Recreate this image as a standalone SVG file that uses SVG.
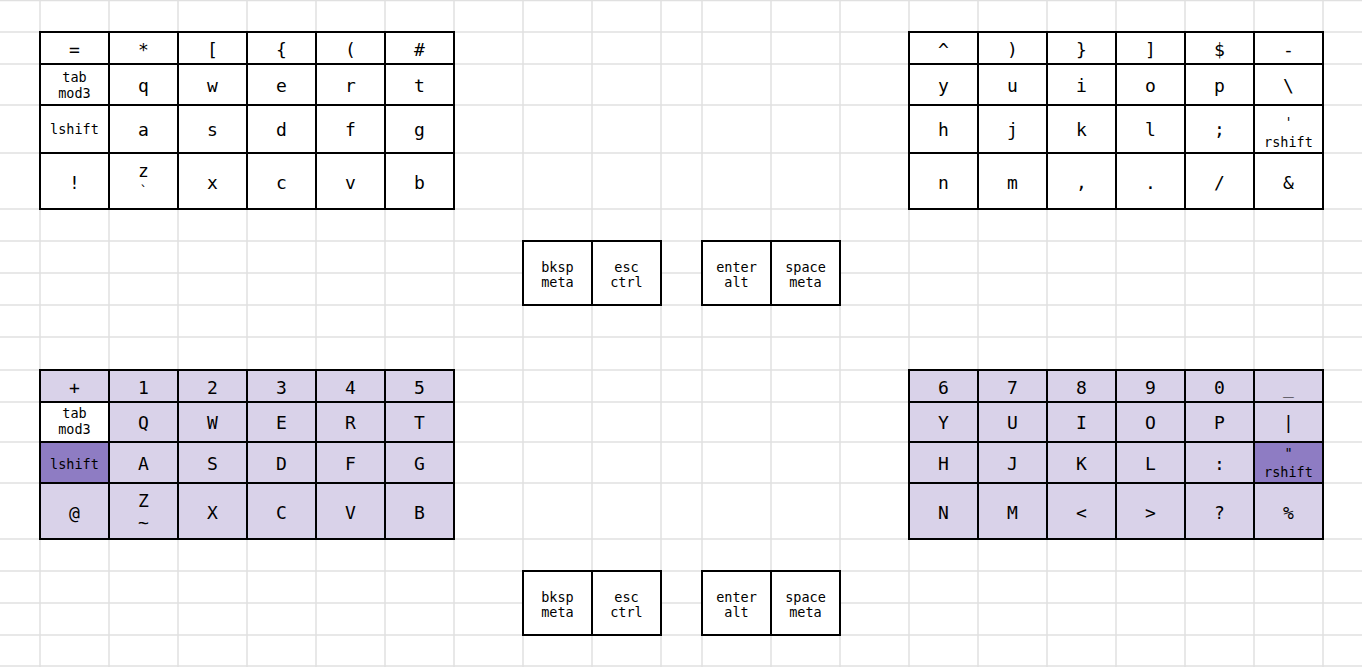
<svg xmlns="http://www.w3.org/2000/svg" width="1362" height="667" viewBox="0 0 1362 667">
<style>
.grid line{stroke:#e0e0e0;stroke-width:1.5}
rect.k{fill:#fff;stroke:#000;stroke-width:2}
rect.l{fill:#d9d2e9;stroke:#000;stroke-width:2}
rect.d{fill:#8e7cc3;stroke:#000;stroke-width:2}
text{font-family:"DejaVu Sans Mono","Liberation Mono",monospace;fill:#000;text-anchor:middle}
.b{font-size:18px}
.s{font-size:13.5px}
</style>
<rect width="1362" height="667" fill="#fff"/>
<g class="grid" id="grid">
<line x1="0" y1="0.5" x2="1362" y2="0.5"/>
<line x1="0" y1="32" x2="1362" y2="32"/>
<line x1="0" y1="64" x2="1362" y2="64"/>
<line x1="0" y1="105" x2="1362" y2="105"/>
<line x1="0" y1="153" x2="1362" y2="153"/>
<line x1="0" y1="209" x2="1362" y2="209"/>
<line x1="0" y1="241" x2="1362" y2="241"/>
<line x1="0" y1="273" x2="1362" y2="273"/>
<line x1="0" y1="305" x2="1362" y2="305"/>
<line x1="0" y1="337" x2="1362" y2="337"/>
<line x1="0" y1="370" x2="1362" y2="370"/>
<line x1="0" y1="402" x2="1362" y2="402"/>
<line x1="0" y1="442" x2="1362" y2="442"/>
<line x1="0" y1="483" x2="1362" y2="483"/>
<line x1="0" y1="539" x2="1362" y2="539"/>
<line x1="0" y1="571" x2="1362" y2="571"/>
<line x1="0" y1="603" x2="1362" y2="603"/>
<line x1="0" y1="635" x2="1362" y2="635"/>
<line x1="0" y1="666" x2="1362" y2="666"/>
<line x1="40" y1="0" x2="40" y2="667"/>
<line x1="109" y1="0" x2="109" y2="667"/>
<line x1="178" y1="0" x2="178" y2="667"/>
<line x1="247" y1="0" x2="247" y2="667"/>
<line x1="316" y1="0" x2="316" y2="667"/>
<line x1="385" y1="0" x2="385" y2="667"/>
<line x1="454" y1="0" x2="454" y2="667"/>
<line x1="523" y1="0" x2="523" y2="667"/>
<line x1="592" y1="0" x2="592" y2="667"/>
<line x1="661" y1="0" x2="661" y2="667"/>
<line x1="702" y1="0" x2="702" y2="667"/>
<line x1="771" y1="0" x2="771" y2="667"/>
<line x1="840" y1="0" x2="840" y2="667"/>
<line x1="909" y1="0" x2="909" y2="667"/>
<line x1="978" y1="0" x2="978" y2="667"/>
<line x1="1047" y1="0" x2="1047" y2="667"/>
<line x1="1116" y1="0" x2="1116" y2="667"/>
<line x1="1185" y1="0" x2="1185" y2="667"/>
<line x1="1254" y1="0" x2="1254" y2="667"/>
<line x1="1323" y1="0" x2="1323" y2="667"/>
</g>

<!-- Top left: base layer -->
<g id="base-left">
<g id="bl-r1">
<rect class="k" x="40" y="32" width="69" height="32"/><text class="b" x="74.5" y="56">=</text>
<rect class="k" x="109" y="32" width="69" height="32"/><text class="b" x="143.5" y="56">*</text>
<rect class="k" x="178" y="32" width="69" height="32"/><text class="b" x="212.5" y="56">[</text>
<rect class="k" x="247" y="32" width="69" height="32"/><text class="b" x="281.5" y="56">{</text>
<rect class="k" x="316" y="32" width="69" height="32"/><text class="b" x="350.5" y="56">(</text>
<rect class="k" x="385" y="32" width="69" height="32"/><text class="b" x="419.5" y="56">#</text>
</g>
<g id="bl-r2">
<rect class="k" x="40" y="64" width="69" height="41"/><text class="s" x="74.5" y="82">tab</text><text class="s" x="74.5" y="98">mod3</text>
<rect class="k" x="109" y="64" width="69" height="41"/><text class="b" x="143.5" y="92">q</text>
<rect class="k" x="178" y="64" width="69" height="41"/><text class="b" x="212.5" y="92">w</text>
<rect class="k" x="247" y="64" width="69" height="41"/><text class="b" x="281.5" y="92">e</text>
<rect class="k" x="316" y="64" width="69" height="41"/><text class="b" x="350.5" y="92">r</text>
<rect class="k" x="385" y="64" width="69" height="41"/><text class="b" x="419.5" y="92">t</text>
</g>
<g id="bl-r3">
<rect class="k" x="40" y="105" width="69" height="48"/><text class="s" x="74.5" y="134">lshift</text>
<rect class="k" x="109" y="105" width="69" height="48"/><text class="b" x="143.5" y="136">a</text>
<rect class="k" x="178" y="105" width="69" height="48"/><text class="b" x="212.5" y="136">s</text>
<rect class="k" x="247" y="105" width="69" height="48"/><text class="b" x="281.5" y="136">d</text>
<rect class="k" x="316" y="105" width="69" height="48"/><text class="b" x="350.5" y="136">f</text>
<rect class="k" x="385" y="105" width="69" height="48"/><text class="b" x="419.5" y="136">g</text>
</g>
<g id="bl-r4">
<rect class="k" x="40" y="153" width="69" height="56"/><text class="b" x="74.5" y="189">!</text>
<rect class="k" x="109" y="153" width="69" height="56"/><text class="b" x="143.5" y="177">z</text><text class="s" x="143.5" y="196">`</text>
<rect class="k" x="178" y="153" width="69" height="56"/><text class="b" x="212.5" y="189">x</text>
<rect class="k" x="247" y="153" width="69" height="56"/><text class="b" x="281.5" y="189">c</text>
<rect class="k" x="316" y="153" width="69" height="56"/><text class="b" x="350.5" y="189">v</text>
<rect class="k" x="385" y="153" width="69" height="56"/><text class="b" x="419.5" y="189">b</text>
</g>
</g>

<!-- Top right: base layer -->
<g id="base-right">
<g id="br-r1">
<rect class="k" x="909" y="32" width="69" height="32"/><text class="b" x="943.5" y="56">^</text>
<rect class="k" x="978" y="32" width="69" height="32"/><text class="b" x="1012.5" y="56">)</text>
<rect class="k" x="1047" y="32" width="69" height="32"/><text class="b" x="1081.5" y="56">}</text>
<rect class="k" x="1116" y="32" width="69" height="32"/><text class="b" x="1150.5" y="56">]</text>
<rect class="k" x="1185" y="32" width="69" height="32"/><text class="b" x="1219.5" y="56">$</text>
<rect class="k" x="1254" y="32" width="69" height="32"/><text class="b" x="1288.5" y="56">-</text>
</g>
<g id="br-r2">
<rect class="k" x="909" y="64" width="69" height="41"/><text class="b" x="943.5" y="92">y</text>
<rect class="k" x="978" y="64" width="69" height="41"/><text class="b" x="1012.5" y="92">u</text>
<rect class="k" x="1047" y="64" width="69" height="41"/><text class="b" x="1081.5" y="92">i</text>
<rect class="k" x="1116" y="64" width="69" height="41"/><text class="b" x="1150.5" y="92">o</text>
<rect class="k" x="1185" y="64" width="69" height="41"/><text class="b" x="1219.5" y="92">p</text>
<rect class="k" x="1254" y="64" width="69" height="41"/><text class="b" x="1288.5" y="92">\</text>
</g>
<g id="br-r3">
<rect class="k" x="909" y="105" width="69" height="48"/><text class="b" x="943.5" y="136">h</text>
<rect class="k" x="978" y="105" width="69" height="48"/><text class="b" x="1012.5" y="136">j</text>
<rect class="k" x="1047" y="105" width="69" height="48"/><text class="b" x="1081.5" y="136">k</text>
<rect class="k" x="1116" y="105" width="69" height="48"/><text class="b" x="1150.5" y="136">l</text>
<rect class="k" x="1185" y="105" width="69" height="48"/><text class="b" x="1219.5" y="136">;</text>
<rect class="k" x="1254" y="105" width="69" height="48"/><text class="s" x="1288.5" y="127">'</text><text class="s" x="1288.5" y="147">rshift</text>
</g>
<g id="br-r4">
<rect class="k" x="909" y="153" width="69" height="56"/><text class="b" x="943.5" y="189">n</text>
<rect class="k" x="978" y="153" width="69" height="56"/><text class="b" x="1012.5" y="189">m</text>
<rect class="k" x="1047" y="153" width="69" height="56"/><text class="b" x="1081.5" y="189">,</text>
<rect class="k" x="1116" y="153" width="69" height="56"/><text class="b" x="1150.5" y="189">.</text>
<rect class="k" x="1185" y="153" width="69" height="56"/><text class="b" x="1219.5" y="189">/</text>
<rect class="k" x="1254" y="153" width="69" height="56"/><text class="b" x="1288.5" y="189">&amp;</text>
</g>
</g>

<!-- Thumbs top -->
<g id="thumb-left-top">
<rect class="k" x="523" y="241" width="69" height="64"/><text class="s" x="557.5" y="271.5">bksp</text><text class="s" x="557.5" y="287">meta</text>
<rect class="k" x="592" y="241" width="69" height="64"/><text class="s" x="626.5" y="271.5">esc</text><text class="s" x="626.5" y="287">ctrl</text>
</g>
<g id="thumb-right-top">
<rect class="k" x="702" y="241" width="69" height="64"/><text class="s" x="736.5" y="271.5">enter</text><text class="s" x="736.5" y="287">alt</text>
<rect class="k" x="771" y="241" width="69" height="64"/><text class="s" x="805.5" y="271.5">space</text><text class="s" x="805.5" y="287">meta</text>
</g>

<!-- Bottom left: shift layer -->
<g id="shift-left">
<g id="sl-r1">
<rect class="l" x="40" y="370" width="69" height="32"/><text class="b" x="74.5" y="393.5">+</text>
<rect class="l" x="109" y="370" width="69" height="32"/><text class="b" x="143.5" y="393.5">1</text>
<rect class="l" x="178" y="370" width="69" height="32"/><text class="b" x="212.5" y="393.5">2</text>
<rect class="l" x="247" y="370" width="69" height="32"/><text class="b" x="281.5" y="393.5">3</text>
<rect class="l" x="316" y="370" width="69" height="32"/><text class="b" x="350.5" y="393.5">4</text>
<rect class="l" x="385" y="370" width="69" height="32"/><text class="b" x="419.5" y="393.5">5</text>
</g>
<g id="sl-r2">
<rect class="k" x="40" y="402" width="69" height="40"/><text class="s" x="74.5" y="418">tab</text><text class="s" x="74.5" y="434">mod3</text>
<rect class="l" x="109" y="402" width="69" height="40"/><text class="b" x="143.5" y="429">Q</text>
<rect class="l" x="178" y="402" width="69" height="40"/><text class="b" x="212.5" y="429">W</text>
<rect class="l" x="247" y="402" width="69" height="40"/><text class="b" x="281.5" y="429">E</text>
<rect class="l" x="316" y="402" width="69" height="40"/><text class="b" x="350.5" y="429">R</text>
<rect class="l" x="385" y="402" width="69" height="40"/><text class="b" x="419.5" y="429">T</text>
</g>
<g id="sl-r3">
<rect class="d" x="40" y="442" width="69" height="41"/><text class="s" x="74.5" y="469">lshift</text>
<rect class="l" x="109" y="442" width="69" height="41"/><text class="b" x="143.5" y="470">A</text>
<rect class="l" x="178" y="442" width="69" height="41"/><text class="b" x="212.5" y="470">S</text>
<rect class="l" x="247" y="442" width="69" height="41"/><text class="b" x="281.5" y="470">D</text>
<rect class="l" x="316" y="442" width="69" height="41"/><text class="b" x="350.5" y="470">F</text>
<rect class="l" x="385" y="442" width="69" height="41"/><text class="b" x="419.5" y="470">G</text>
</g>
<g id="sl-r4">
<rect class="l" x="40" y="483" width="69" height="56"/><text class="b" x="74.5" y="519">@</text>
<rect class="l" x="109" y="483" width="69" height="56"/><text class="b" x="143.5" y="507">Z</text><text class="b" x="143.5" y="529">~</text>
<rect class="l" x="178" y="483" width="69" height="56"/><text class="b" x="212.5" y="519">X</text>
<rect class="l" x="247" y="483" width="69" height="56"/><text class="b" x="281.5" y="519">C</text>
<rect class="l" x="316" y="483" width="69" height="56"/><text class="b" x="350.5" y="519">V</text>
<rect class="l" x="385" y="483" width="69" height="56"/><text class="b" x="419.5" y="519">B</text>
</g>
</g>

<!-- Bottom right: shift layer -->
<g id="shift-right">
<g id="sr-r1">
<rect class="l" x="909" y="370" width="69" height="32"/><text class="b" x="943.5" y="393.5">6</text>
<rect class="l" x="978" y="370" width="69" height="32"/><text class="b" x="1012.5" y="393.5">7</text>
<rect class="l" x="1047" y="370" width="69" height="32"/><text class="b" x="1081.5" y="393.5">8</text>
<rect class="l" x="1116" y="370" width="69" height="32"/><text class="b" x="1150.5" y="393.5">9</text>
<rect class="l" x="1185" y="370" width="69" height="32"/><text class="b" x="1219.5" y="393.5">0</text>
<rect class="l" x="1254" y="370" width="69" height="32"/><text class="b" x="1288.5" y="393.5">_</text>
</g>
<g id="sr-r2">
<rect class="l" x="909" y="402" width="69" height="40"/><text class="b" x="943.5" y="429">Y</text>
<rect class="l" x="978" y="402" width="69" height="40"/><text class="b" x="1012.5" y="429">U</text>
<rect class="l" x="1047" y="402" width="69" height="40"/><text class="b" x="1081.5" y="429">I</text>
<rect class="l" x="1116" y="402" width="69" height="40"/><text class="b" x="1150.5" y="429">O</text>
<rect class="l" x="1185" y="402" width="69" height="40"/><text class="b" x="1219.5" y="429">P</text>
<rect class="l" x="1254" y="402" width="69" height="40"/><text class="b" x="1288.5" y="429">|</text>
</g>
<g id="sr-r3">
<rect class="l" x="909" y="442" width="69" height="41"/><text class="b" x="943.5" y="470">H</text>
<rect class="l" x="978" y="442" width="69" height="41"/><text class="b" x="1012.5" y="470">J</text>
<rect class="l" x="1047" y="442" width="69" height="41"/><text class="b" x="1081.5" y="470">K</text>
<rect class="l" x="1116" y="442" width="69" height="41"/><text class="b" x="1150.5" y="470">L</text>
<rect class="l" x="1185" y="442" width="69" height="41"/><text class="b" x="1219.5" y="470">:</text>
<rect class="d" x="1254" y="442" width="69" height="41"/><text class="s" x="1288.5" y="458">"</text><text class="s" x="1288.5" y="476.5">rshift</text>
</g>
<g id="sr-r4">
<rect class="l" x="909" y="483" width="69" height="56"/><text class="b" x="943.5" y="519">N</text>
<rect class="l" x="978" y="483" width="69" height="56"/><text class="b" x="1012.5" y="519">M</text>
<rect class="l" x="1047" y="483" width="69" height="56"/><text class="b" x="1081.5" y="519">&lt;</text>
<rect class="l" x="1116" y="483" width="69" height="56"/><text class="b" x="1150.5" y="519">&gt;</text>
<rect class="l" x="1185" y="483" width="69" height="56"/><text class="b" x="1219.5" y="519">?</text>
<rect class="l" x="1254" y="483" width="69" height="56"/><text class="b" x="1288.5" y="519">%</text>
</g>
</g>

<!-- Thumbs bottom -->
<g id="thumb-left-bottom">
<rect class="k" x="523" y="571" width="69" height="64"/><text class="s" x="557.5" y="601.5">bksp</text><text class="s" x="557.5" y="617">meta</text>
<rect class="k" x="592" y="571" width="69" height="64"/><text class="s" x="626.5" y="601.5">esc</text><text class="s" x="626.5" y="617">ctrl</text>
</g>
<g id="thumb-right-bottom">
<rect class="k" x="702" y="571" width="69" height="64"/><text class="s" x="736.5" y="601.5">enter</text><text class="s" x="736.5" y="617">alt</text>
<rect class="k" x="771" y="571" width="69" height="64"/><text class="s" x="805.5" y="601.5">space</text><text class="s" x="805.5" y="617">meta</text>
</g>
</svg>
